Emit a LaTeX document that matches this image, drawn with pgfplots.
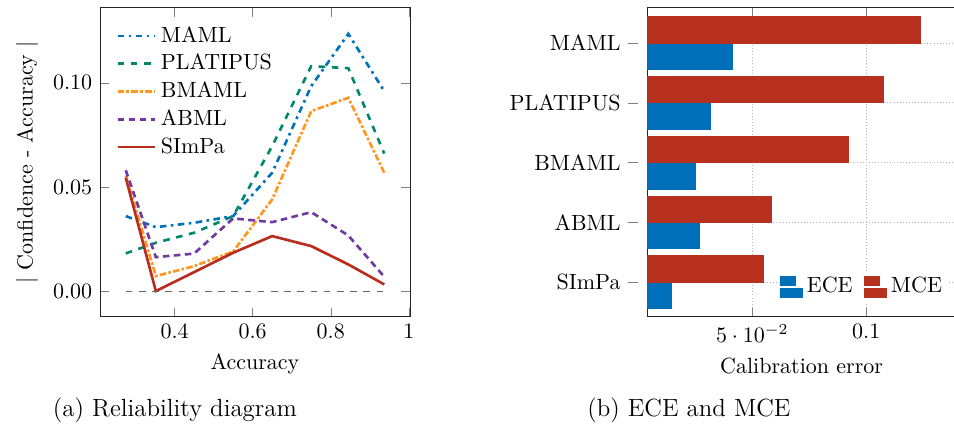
\documentclass[border=0pt]{standalone}
\usepackage{pgfplots}
\pgfplotsset{compat=1.18}
\definecolor{cmaml}{RGB}{0,114,189}
\definecolor{cplat}{RGB}{0,135,108}
\definecolor{cbmaml}{RGB}{255,151,31}
\definecolor{cabml}{RGB}{112,56,160}
\definecolor{csimpa}{RGB}{185,45,30}
\definecolor{barred}{RGB}{183,49,30}
\definecolor{barblue}{RGB}{0,111,186}
\begin{document}
\begin{tikzpicture}
\fontsize{10}{12}\selectfont
\begin{axis}[
  at={(45.45pt,50.45pt)}, anchor=south west,
  scale only axis, width=140.9pt, height=140.5pt,
  xmin=0.209, xmax=1.003, ymin=-0.0124, ymax=0.136,
  xtick={0.4,0.6,0.8,1}, ytick={0,0.05,0.1},
  y tick label style={/pgf/number format/fixed,/pgf/number format/fixed zerofill,/pgf/number format/precision=2},
  tick style={gray},
  axis line style={black!85},
  xlabel={Accuracy}, ylabel={$|$ Confidence - Accuracy $|$},
  legend style={draw=none, fill=none, at={(0.03,0.97)}, anchor=north west, font=\fontsize{10}{12}\selectfont},
  legend cell align=left,
]
\addplot[cmaml, very thick, dash dot] coordinates {(0.275,0.036) (0.352,0.0307) (0.45,0.0328) (0.55,0.036) (0.65,0.0568) (0.75,0.0984) (0.845,0.1235) (0.937,0.096)};
\addlegendentry{MAML}
\addplot[cplat, very thick, dashed] coordinates {(0.275,0.0181) (0.352,0.0232) (0.45,0.028) (0.55,0.036) (0.65,0.0696) (0.75,0.108) (0.845,0.107) (0.937,0.066)};
\addlegendentry{PLATIPUS}
\addplot[cbmaml, very thick, densely dash dot] coordinates {(0.275,0.0555) (0.352,0.0072) (0.45,0.012) (0.55,0.019) (0.65,0.044) (0.75,0.0864) (0.845,0.0928) (0.937,0.0568)};
\addlegendentry{BMAML}
\addplot[cabml, very thick, densely dashed] coordinates {(0.275,0.058) (0.352,0.0163) (0.45,0.018) (0.55,0.0349) (0.65,0.0331) (0.75,0.0379) (0.845,0.0267) (0.937,0.0069)};
\addlegendentry{ABML}
\addplot[csimpa, very thick] coordinates {(0.275,0.0544) (0.352,0.0) (0.45,0.0091) (0.55,0.0184) (0.65,0.0264) (0.75,0.0216) (0.845,0.0128) (0.937,0.0032)};
\addlegendentry{SImPa}
\addplot[gray!80!black, dashed, forget plot] coordinates {(0.275,0) (0.937,0)};
\end{axis}
\begin{axis}[
  at={(294.1pt,50.45pt)}, anchor=south west,
  scale only axis, width=140.5pt, height=140.5pt,
  xbar, bar width=0.44,
  xmin=0.0038, xmax=0.1395, ymin=-0.58, ymax=4.59,
  xtick={0.05,0.1}, ytick={0,1,2,3,4},
  yticklabels={SImPa,ABML,BMAML,PLATIPUS,MAML},
  ytick pos=left,
  y tick style={xshift=-0.15cm},
  y tick label style={xshift=-0.15cm},
  tick style={gray},
  axis line style={black!85},
  xmajorgrids, ymajorgrids,
  grid style={densely dotted, gray!60},
  xlabel={Calibration error},
  legend style={draw=none, fill=white, at={(0.42,0.045)}, anchor=south west, font=\fontsize{10}{12}\selectfont, inner sep=1pt},
  legend columns=2,
  legend style={/tikz/every even column/.append style={column sep=3pt}},
  legend image code/.code={\draw[#1,/tikz/.cd,bar width=3.9pt,yshift=-0.3em,bar shift=0pt] plot coordinates {(10pt,0cm) (7pt,5.6pt)};},
]
\addplot[fill=barblue, draw=barblue, bar shift=-0.22] coordinates {(0.0145,0) (0.0266,1) (0.0249,2) (0.0318,3) (0.0413,4)};
\addlegendentry{ECE}
\addplot[fill=barred, draw=barred, bar shift=0.22] coordinates {(0.0548,0) (0.0582,1) (0.0924,2) (0.1077,3) (0.1237,4)};
\addlegendentry{MCE}
\end{axis}
\node[font=\fontsize{11.3}{13}\selectfont] at (79.5pt,8.2pt) {(a) Reliability diagram};
\node[font=\fontsize{11.3}{13}\selectfont] at (313.1pt,8.2pt) {(b) ECE and MCE};
\pgfresetboundingbox
\path (0,0) rectangle (433.6pt,194.5pt);
\end{tikzpicture}
\end{document}
